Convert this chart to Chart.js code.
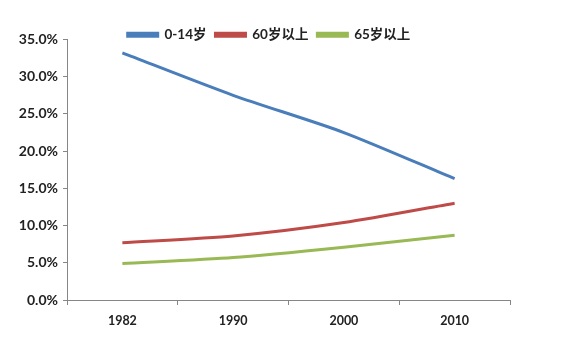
<!DOCTYPE html>
<html><head><meta charset="utf-8">
<script src="https://cdn.jsdelivr.net/npm/chart.js@4.4.1/dist/chart.umd.min.js"></script>
<style>html,body{margin:0;padding:0;background:#fff}#wrap{width:580px;height:342px;position:relative}</style>
</head><body><div id="wrap"><canvas id="c" width="580" height="342"></canvas></div>
<script>
const categories = ["1982", "1990", "2000", "2010"];
const seriesNames = ["0-14岁", "60岁以上", "65岁以上"];
const age0to14 = [33.2, 27.5, 22.5, 16.3];
const age60plus = [7.7, 8.6, 10.4, 13.0];
const age65plus = [4.9, 5.7, 7.1, 8.7];
const yTicks = [0, 5, 10, 15, 20, 25, 30, 35];

const FONT = "Lato, 'Noto Sans CJK SC', sans-serif";
const colors = ["#4A7EBB", "#BE4B48", "#98B954"];
const data = {
  labels: categories,
  datasets: [age0to14, age60plus, age65plus].map((v, i) => ({
    label: seriesNames[i], data: v, borderColor: colors[i], backgroundColor: colors[i],
    borderWidth: 3, pointRadius: 0, tension: 0.25, fill: false
  }))
};
const legendShift = {
  id: 'legendShift',
  afterLayout(chart) {
    const l = chart.legend;
    if (!l) return;
    l.top += 12; l.bottom += 12; l.left += 14; l.right += 14;
  }
};
new Chart(document.getElementById('c'), {
  type: 'line', data,
  plugins: [legendShift],
  options: {
    responsive: false, animation: false,
    layout: { padding: { left: 0, right: 70, top: 7, bottom: 6 } },
    plugins: {
      tooltip: { enabled: false },
      legend: { position: 'top', align: 'center',
        labels: { boxWidth: 30, boxHeight: 3, padding: 9, color: '#222',
          font: { family: FONT, size: 13.5, weight: 'bold' } } }
    },
    scales: {
      x: { offset: true,
        grid: { offset: true, drawOnChartArea: false, drawTicks: true, tickLength: 5, color: '#868686' },
        border: { color: '#868686', width: 1 },
        ticks: { color: '#222', padding: 8, font: { family: FONT, size: 12.5, weight: 'bold' } } },
      y: { min: 0, max: 35,
        afterBuildTicks: s => { s.ticks = yTicks.map(v => ({ value: v })); },
        afterFit: s => { s.width = 67; },
        grid: { drawOnChartArea: false, drawTicks: true, tickLength: 4, color: '#868686' },
        border: { color: '#868686', width: 1 },
        ticks: { color: '#222', padding: 5, font: { family: FONT, size: 14, weight: 'bold' },
          callback: v => v.toFixed(1) + '%' } }
    }
  }
});
</script></body></html>
